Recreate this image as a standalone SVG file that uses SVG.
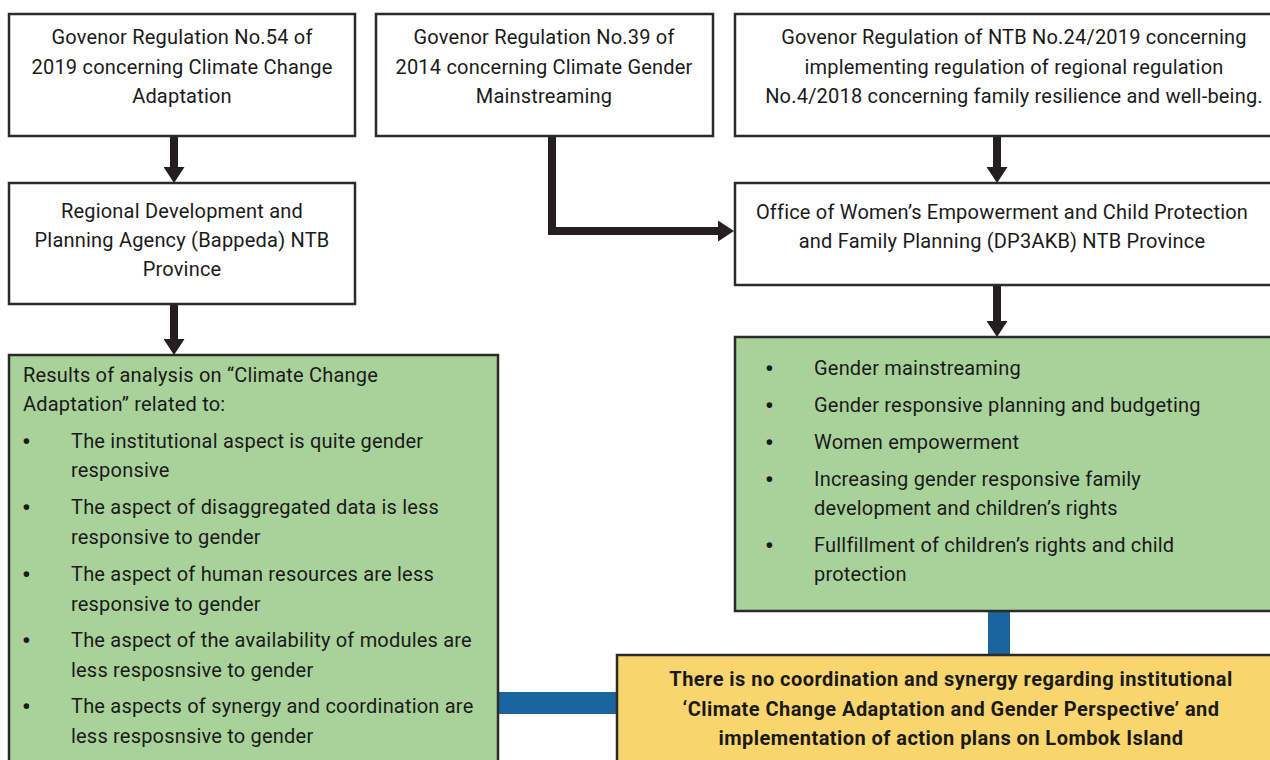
<svg xmlns="http://www.w3.org/2000/svg" width="1270" height="760" viewBox="0 0 1270 760">
<style>
.box{fill:#ffffff;stroke:#2b2b2b;stroke-width:2.5}
.green{fill:#a9d29b;stroke:#2b2b2b;stroke-width:2.5}
.yellow{fill:#f9d56e;stroke:#2b2b2b;stroke-width:2.5}
.t{font-family:Roboto,"Liberation Sans",sans-serif;font-size:20px;letter-spacing:0.2px;fill:#1a1a1a}
.c{text-anchor:middle}
.b{font-weight:bold;letter-spacing:0.45px}
.bul{font-family:Roboto,"Liberation Sans",sans-serif;font-size:24px;font-weight:bold;fill:#1a1a1a}
.arrow{fill:none;stroke:#231f20;stroke-width:8;marker-end:url(#head)}
.blue{fill:none;stroke:#1a64a0;stroke-width:22}
</style>
<defs>
<marker id="head" viewBox="0 0 16 21" refX="0" refY="10.5" markerWidth="16" markerHeight="21" markerUnits="userSpaceOnUse" orient="auto">
<path d="M0,0 L16,10.5 L0,21 Z" fill="#231f20"/>
</marker>
</defs>
<rect width="1270" height="760" fill="#ffffff"/>
<g id="connectors">
<path class="arrow" d="M174,136 V167"/>
<path class="arrow" d="M174,304 V339"/>
<path class="arrow" d="M552,136 V231 H718" stroke-linejoin="miter"/>
<path class="arrow" d="M997,136 V167"/>
<path class="arrow" d="M997,285 V321"/>
<path class="blue" d="M498,703 H617"/>
<path class="blue" d="M999,611 V655"/>
</g>
<g id="reg54">
<rect class="box" x="9" y="14" width="346" height="122"/>
<text class="t c" x="182" y="44">Govenor Regulation No.54 of</text>
<text class="t c" x="182" y="74">2019 concerning Climate Change</text>
<text class="t c" x="182" y="103">Adaptation</text>
</g>
<g id="reg39">
<rect class="box" x="376" y="14" width="337" height="122"/>
<text class="t c" x="544" y="44">Govenor Regulation No.39 of</text>
<text class="t c" x="544" y="74">2014 concerning Climate Gender</text>
<text class="t c" x="544" y="103">Mainstreaming</text>
</g>
<g id="reg24">
<rect class="box" x="735" y="14" width="545" height="122"/>
<text class="t c" x="1014" y="44">Govenor Regulation of NTB No.24/2019 concerning</text>
<text class="t c" x="1014" y="74">implementing regulation of regional regulation</text>
<text class="t c" x="1014" y="103">No.4/2018 concerning family resilience and well-being.</text>
</g>
<g id="bappeda">
<rect class="box" x="9" y="183" width="346" height="121"/>
<text class="t c" x="182" y="218">Regional Development and</text>
<text class="t c" x="182" y="247">Planning Agency (Bappeda) NTB</text>
<text class="t c" x="182" y="276">Province</text>
</g>
<g id="dp3akb">
<rect class="box" x="735" y="183" width="545" height="102"/>
<text class="t c" x="1002" y="219">Office of Women’s Empowerment and Child Protection</text>
<text class="t c" x="1002" y="248">and Family Planning (DP3AKB) NTB Province</text>
</g>
<g id="analysis">
<rect class="green" x="9" y="355" width="489" height="415"/>
<text class="t" x="23" y="382">Results of analysis on “Climate Change</text>
<text class="t" x="23" y="411">Adaptation” related to:</text>
<text class="bul" x="22" y="450">•</text><text class="t" x="71" y="448">The institutional aspect is quite gender</text>
<text class="t" x="71" y="477">responsive</text>
<text class="bul" x="22" y="516">•</text><text class="t" x="71" y="514">The aspect of disaggregated data is less</text>
<text class="t" x="71" y="544">responsive to gender</text>
<text class="bul" x="22" y="583">•</text><text class="t" x="71" y="581">The aspect of human resources are less</text>
<text class="t" x="71" y="611">responsive to gender</text>
<text class="bul" x="22" y="649">•</text><text class="t" x="71" y="647">The aspect of the availability of modules are</text>
<text class="t" x="71" y="677">less resposnsive to gender</text>
<text class="bul" x="22" y="715">•</text><text class="t" x="71" y="713">The aspects of synergy and coordination are</text>
<text class="t" x="71" y="743">less resposnsive to gender</text>
</g>
<g id="programs">
<rect class="green" x="735" y="337" width="545" height="274"/>
<text class="bul" x="765" y="377">•</text><text class="t" x="814" y="375">Gender mainstreaming</text>
<text class="bul" x="765" y="414">•</text><text class="t" x="814" y="412">Gender responsive planning and budgeting</text>
<text class="bul" x="765" y="451">•</text><text class="t" x="814" y="449">Women empowerment</text>
<text class="bul" x="765" y="488">•</text><text class="t" x="814" y="486">Increasing gender responsive family</text>
<text class="t" x="814" y="515">development and children’s rights</text>
<text class="bul" x="765" y="554">•</text><text class="t" x="814" y="552">Fullfillment of children’s rights and child</text>
<text class="t" x="814" y="581">protection</text>
</g>
<g id="conclusion">
<rect class="yellow" x="617" y="655" width="663" height="115"/>
<text class="t c b" x="951" y="686">There is no coordination and synergy regarding institutional</text>
<text class="t c b" x="951" y="716">‘Climate Change Adaptation and Gender Perspective’ and</text>
<text class="t c b" x="951" y="745">implementation of action plans on Lombok Island</text>
</g>
</svg>
